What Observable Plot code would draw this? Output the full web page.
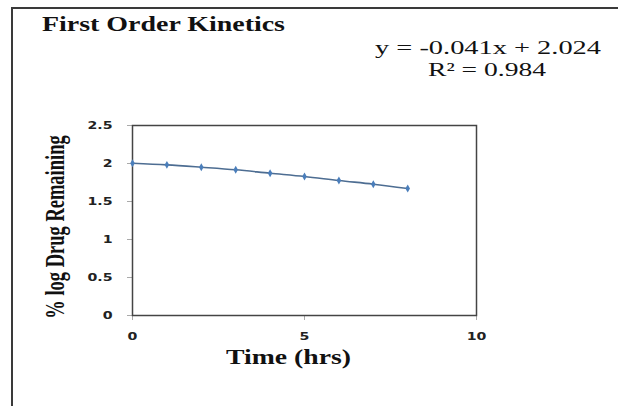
<!DOCTYPE html>
<html>
<head>
<meta charset="utf-8">
<script src="https://cdn.jsdelivr.net/npm/d3@7"></script>
<script src="https://cdn.jsdelivr.net/npm/@observablehq/plot@0.6"></script>
<style>
  html, body { margin: 0; padding: 0; background: #fff; }
  #page { position: relative; width: 618px; height: 406px; overflow: hidden; background: #fff; }
  #frame { position: absolute; left: 11px; top: 7px; width: 640px; height: 440px;
           border-top: 2px solid #3a3a3a; border-left: 2px solid #3a3a3a; }
  .txt { position: absolute; white-space: nowrap; line-height: 1; color: #111;
         font-family: "Liberation Serif", "Times New Roman", serif; transform-origin: 0 0; }
  #chart { position: absolute; left: 0; top: 100px; }
</style>
</head>
<body>
<div id="page">
  <div id="frame"></div>
  <div id="title" class="txt" style="left:42px; top:13.5px; font-size:20px; font-weight:bold;">First Order Kinetics</div>
  <div id="eq1" class="txt" style="left:375px; top:38px; font-size:19px;">y = -0.041x + 2.024</div>
  <div id="eq2" class="txt" style="left:428px; top:60px; font-size:19px;">R² = 0.984</div>
  <div id="chart"></div>
  <div id="xlab" class="txt" style="left:226px; top:346.5px; font-size:20px; font-weight:bold;">Time (hrs)</div>
  <div id="ylab" class="txt" style="left:56px; top:227px; font-size:18.5px; font-weight:bold; transform-origin:50% 50%;">% log Drug Remaining</div>
</div>
<script>
// ---- data ----
const timeHrs = [0, 1, 2, 3, 4, 5, 6, 7, 8];
const logRemaining = [2.004, 1.982, 1.951, 1.917, 1.872, 1.829, 1.776, 1.728, 1.671];
const xTicks = [0, 5, 10];
const yTicks = [0, 0.5, 1, 1.5, 2, 2.5];

const data = timeHrs.map((t, i) => ({t, v: logRemaining[i]}));

const svg = Plot.plot({
  width: 618,
  height: 306,
  marginLeft: 132,
  marginRight: 142,
  marginTop: 25,
  marginBottom: 91,
  style: {fontFamily: "DejaVu Sans", fontSize: "10.5px", fontWeight: "bold", color: "#222", background: "transparent"},
  x: {domain: [0, 10], ticks: xTicks, tickSize: 5, tickPadding: 12, tickFormat: d => String(d), label: null},
  y: {domain: [0, 2.5], ticks: yTicks, tickSize: 5, tickPadding: 15, tickFormat: d => String(d), label: null},
  marks: [
    Plot.frame({stroke: "#444", strokeWidth: 1.5}),
    Plot.line(data, {x: "t", y: "v", stroke: "#4d6d92", strokeWidth: 1.6, curve: "catmull-rom"}),
    Plot.dot(data, {x: "t", y: "v", symbol: "diamond", r: 2.4, fill: "#4a7ebb", stroke: "none"})
  ]
});
document.getElementById("chart").appendChild(svg);

// style ticks: light gray tick lines, horizontally stretched labels
const s = d3.select(svg);
s.selectAll('g[aria-label$="axis tick"] path, g[aria-label$="axis tick"] line, .tick line').attr("stroke", "#aaa");
s.selectAll('g[aria-label$="tick label"] text, .tick text').each(function() {
  const tr = this.getAttribute("transform") || "";
  this.setAttribute("transform", (tr + " scale(1.35,1)").trim());
  this.setAttribute("fill", "#222");
});

// stretch text like the reference (wide glyphs)
function fitWidth(id, w) {
  const el = document.getElementById(id);
  const nat = el.getBoundingClientRect().width;
  el.style.transform = `scaleX(${w / nat})`;
}
fitWidth("title", 243);
fitWidth("eq1", 226);
fitWidth("eq2", 118);
fitWidth("xlab", 125);
const yl = document.getElementById("ylab");
yl.style.transform = "translate(-50%,-50%) rotate(-90deg) scaleY(1.45)";
</script>
</body>
</html>
